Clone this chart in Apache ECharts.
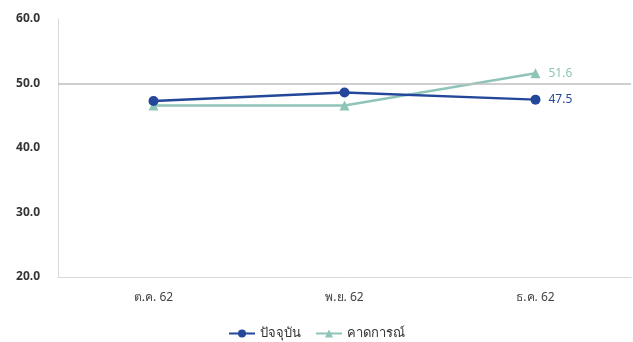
<!DOCTYPE html>
<html><head><meta charset="utf-8">
<script src="https://cdn.jsdelivr.net/npm/echarts@6/dist/echarts.min.js"></script>
<style>html,body{margin:0;padding:0;background:#fff}#c{width:633px;height:342px}</style>
</head><body><div id="c"></div>
<script>
const categories = ['ต.ค. 62', 'พ.ย. 62', 'ธ.ค. 62'];
const currentValues = [47.3, 48.6, 47.5];
const forecastValues = [46.6, 46.6, 51.6];
const seriesNames = ['ปัจจุบัน', 'คาดการณ์'];
const refValue = 50;

const chart = echarts.init(document.getElementById('c'));
const font = "'Noto Sans', 'Open Sans', sans-serif";
function lastLabel(color){
  return {show:true, position:'right', distance:8, color:color, fontSize:12, fontFamily:font,
    formatter: p => p.dataIndex === categories.length-1 ? p.value.toFixed(1) : ''};
}
chart.setOption({
  animation:false,
  grid:{left:58, right:2, top:19, bottom:65},
  legend:{bottom:-3, left:'center', itemGap:14, itemWidth:26, itemHeight:10,
    textStyle:{fontSize:13, color:'#333', fontFamily:font}, data:seriesNames},
  xAxis:{type:'category', data:categories, boundaryGap:true,
    axisLine:{show:true, lineStyle:{color:'#d9d9d9'}}, axisTick:{show:false},
    axisLabel:{color:'#444', fontSize:12, margin:15, fontFamily:font}},
  yAxis:{type:'value', min:20, max:60, interval:10,
    axisLine:{show:true, lineStyle:{color:'#d9d9d9'}}, splitLine:{show:false},
    axisLabel:{color:'#333', fontSize:12, fontWeight:'bold', margin:18, fontFamily:font, formatter:v=>v.toFixed(1)}},
  series:[
    {name:seriesNames[0], type:'line', data:currentValues, symbol:'circle', symbolSize:10,
      itemStyle:{color:'#24479b'}, lineStyle:{width:2.5, color:'#24479b'}, label:lastLabel('#24479b'), z:3,
      markLine:{silent:true, symbol:'none', label:{show:false},
        lineStyle:{color:'#bfbfbf', width:1.5, type:'solid'}, data:[{yAxis:refValue}]}},
    {name:seriesNames[1], type:'line', data:forecastValues, symbol:'triangle', symbolSize:10,
      itemStyle:{color:'#8ec5b8'}, lineStyle:{width:2.5, color:'#8ec5b8'}, label:lastLabel('#8ec5b8'), z:2}
  ]
});
</script></body></html>
